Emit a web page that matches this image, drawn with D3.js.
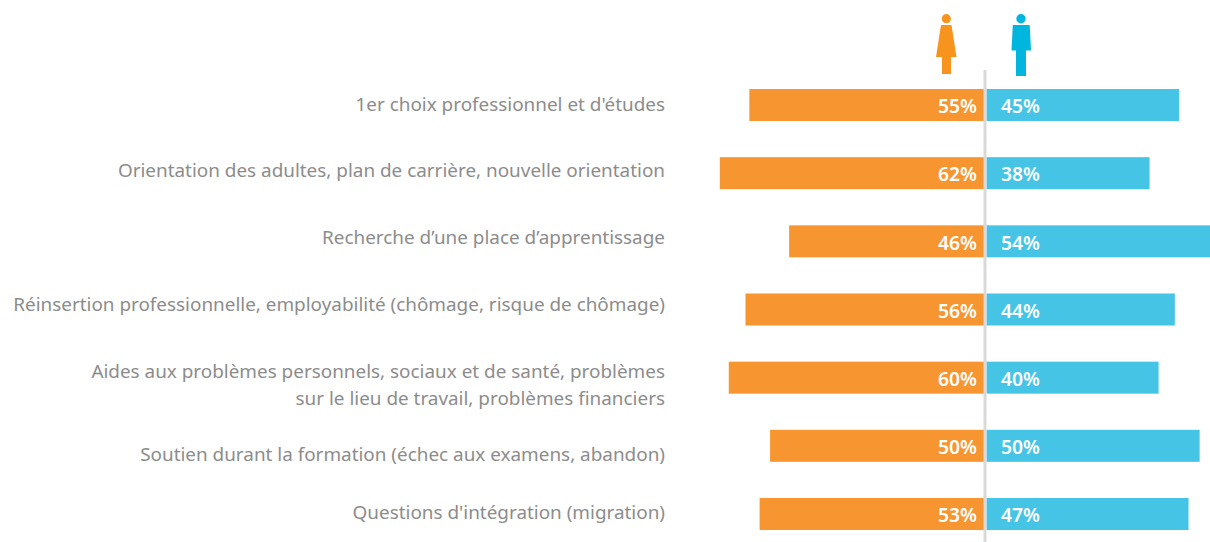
<!DOCTYPE html>
<html><head><meta charset="utf-8">
<script src="https://cdnjs.cloudflare.com/ajax/libs/d3/7.8.5/d3.min.js"></script>
<style>html,body{margin:0;padding:0;background:#fff;overflow:hidden}svg{display:block}text{font-family:"Noto Sans",sans-serif}</style>
</head><body><svg id="c" width="1210" height="542"></svg>
<script>
const categories=[
 ["1er choix professionnel et d'études"],
 ["Orientation des adultes, plan de carrière, nouvelle orientation"],
 ["Recherche d’une place d’apprentissage"],
 ["Réinsertion professionnelle, employabilité (chômage, risque de chômage)"],
 ["Aides aux problèmes personnels, sociaux et de santé, problèmes","sur le lieu de travail, problèmes financiers"],
 ["Soutien durant la formation (échec aux examens, abandon)"],
 ["Questions d'intégration (migration)"]
];
const women=[54.9,61.8,45.6,55.8,59.7,50.05,52.5];
const men=[45,38.1,54,44,40.2,49.8,47.2];
const labelY=[104,170,237,304,371,454,512];

const svg=d3.select("#c");
const idx=d3.range(categories.length);
const y=d3.scaleBand().domain(idx).range([89,530]).paddingInner(0.5306).paddingOuter(0);
const xW=d3.scaleLinear().domain([0,100]).range([984.3,556.3]);
const xM=d3.scaleLinear().domain([0,100]).range([986.5,1414.5]);

svg.selectAll(".w").data(idx).join("rect").attr("class","w")
 .attr("x",i=>xW(women[i])).attr("y",i=>y(i)).attr("width",i=>xW(0)-xW(women[i])).attr("height",y.bandwidth()).attr("fill","#f79631");
svg.selectAll(".m").data(idx).join("rect").attr("class","m")
 .attr("x",xM(0)).attr("y",i=>y(i)).attr("width",i=>xM(men[i])-xM(0)).attr("height",y.bandwidth()).attr("fill","#45c4e6");

svg.append("line").attr("x1",985).attr("x2",985).attr("y1",70).attr("y2",542).attr("stroke","#d9d9d9").attr("stroke-width",3);

const valStyle=s=>s.attr("fill","#fff").attr("font-size",19.3).attr("font-weight",600).attr("dominant-baseline","central");
svg.selectAll(".wv").data(idx).join("text").attr("class","wv").call(valStyle)
 .attr("x",977).attr("y",i=>y(i)+y.bandwidth()/2+0.7).attr("text-anchor","end").text(i=>Math.round(women[i])+"%");
svg.selectAll(".mv").data(idx).join("text").attr("class","mv").call(valStyle)
 .attr("x",1001).attr("y",i=>y(i)+y.bandwidth()/2+0.7).attr("text-anchor","start").text(i=>Math.round(men[i])+"%");

const lab=svg.selectAll(".l").data(idx).join("text").attr("class","l")
 .attr("text-anchor","end").attr("fill","#8c8c8c").attr("font-size",18.9).attr("dominant-baseline","central");
lab.each(function(i){
 d3.select(this).selectAll("tspan").data(categories[i]).join("tspan")
  .attr("x",665).attr("y",(d,k)=>labelY[i]+k*27).text(d=>d);
});

// pictograms
const f=svg.append("g").attr("fill","#f7941e");
f.append("circle").attr("cx",946.3).attr("cy",18.7).attr("r",4.6);
f.append("path").attr("d",d3.line()([[941,25],[951.5,25],[956.5,57],[951,57],[951,74],[942,74],[942,57],[936,57]])+"Z");
const m=svg.append("g").attr("fill","#00b5de");
m.append("circle").attr("cx",1021).attr("cy",18.8).attr("r",4.7);
m.append("path").attr("d",d3.line()([[1012.8,25],[1029.7,25],[1031,50.5],[1026,50.5],[1026,76],[1016,76],[1016,50.5],[1011.5,50.5]])+"Z");
</script></body></html>
